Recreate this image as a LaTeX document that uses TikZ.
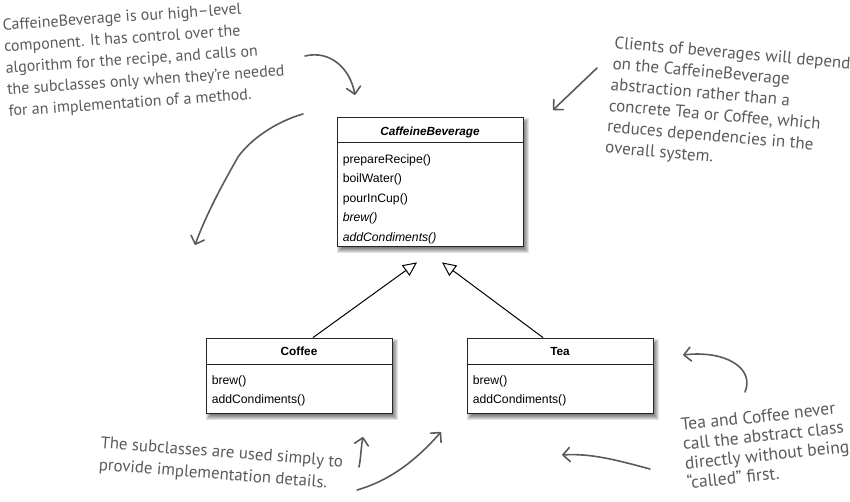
\documentclass[tikz,border=0pt]{standalone}
\usepackage{fontspec}
\setmainfont{Liberation Sans}
\newfontfamily\handfont{PT Sans}
\usetikzlibrary{arrows.meta,backgrounds}
\definecolor{ink}{HTML}{5A5A5A}
\begin{document}
\begin{tikzpicture}[x=1pt,y=-1pt,
  umlbox/.style={draw=black!85, line width=0.8pt, fill=white, inner sep=0pt, minimum width=186pt},
  umltitle/.style={font=\fontsize{11.8}{14}\selectfont\bfseries, inner sep=0pt},
  meth/.style={font=\fontsize{12.2}{19.6}\selectfont, align=left, anchor=north west, inner sep=0pt},
  note/.style={font=\handfont\fontsize{16}{21.5}\selectfont, text=ink, align=left, inner sep=0pt, anchor=north west},
  handarrow/.style={draw=ink, line width=1.6pt, line cap=round, line join=round,
    -{Straight Barb[length=7pt,width=14pt,line width=1.6pt,round]}},
  inh/.style={draw=black, line width=1pt, -{Triangle[open,length=14pt,width=13pt,fill=white,line width=1pt]}}
]
\useasboundingbox (0,0) rectangle (850,502);

% UML boxes
\node[umlbox, minimum height=129pt] (cb) at (430,181.5) {};
\node[umlbox, minimum height=75pt] (coffee) at (299,375.5) {};
\node[umlbox, minimum height=75pt] (tea) at (560,375.5) {};

\begin{pgfonlayer}{background}
\foreach \b in {cb,coffee,tea}{
  \foreach \s in {0,...,6}{
    \fill[black,opacity=0.11] ([shift={(6-\s,7-\s)}]\b.north west) rectangle ([shift={(\s,1+\s)}]\b.south east);
  }
}
\end{pgfonlayer}

\draw[black!85, line width=0.8pt] ([yshift=-26pt]cb.north west) -- ([yshift=-26pt]cb.north east);
\draw[black!85, line width=0.8pt] ([yshift=-27pt]coffee.north west) -- ([yshift=-27pt]coffee.north east);
\draw[black!85, line width=0.8pt] ([yshift=-27pt]tea.north west) -- ([yshift=-27pt]tea.north east);

\node[umltitle, font=\fontsize{11.8}{14}\selectfont\bfseries\itshape] (cbt) at ([yshift=-15.5pt]cb.north) {CaffeineBeverage};
\node[umltitle] (cft) at ([yshift=-14pt]coffee.north) {Coffee};
\node[umltitle] (tet) at ([yshift=-14pt]tea.north) {Tea};

\node[meth] (cbm) at ([xshift=6pt,yshift=-37.5pt]cb.north west)
  {prepareRecipe()\\boilWater()\\pourInCup()\\\textit{brew()}\\\textit{addCondiments()}};
\node[meth] (cfm) at ([xshift=6pt,yshift=-37.5pt]coffee.north west) {brew()\\addCondiments()};
\node[meth] (tem) at ([xshift=6pt,yshift=-37.5pt]tea.north west) {brew()\\addCondiments()};

% inheritance
\draw[inh] ([xshift=14pt]coffee.north) -- ([xshift=-13pt,yshift=-16pt]cb.south);
\draw[inh] ([xshift=-17pt]tea.north) -- ([xshift=12pt,yshift=-16pt]cb.south);

% notes
\node[note, rotate=4] (n1) at (2,19) {CaffeineBeverage is our high–level\\component. It has control over the\\algorithm for the recipe, and calls on\\the subclasses only when they’re needed\\for an implementation of a method.};
\node[note, rotate=-5, font=\handfont\fontsize{17}{21}\selectfont] (n2) at (615,36) {Clients of beverages will depend\\on the CaffeineBeverage\\abstraction rather than a\\concrete Tea or Coffee, which\\reduces dependencies in the\\overall system.};
\node[note, rotate=-4.5, font=\handfont\fontsize{16.8}{22}\selectfont] (n3) at (101,436) {The subclasses are used simply to\\provide implementation details.};
\node[note, rotate=6, font=\handfont\fontsize{17.5}{19.5}\selectfont] (n4) at (680,418) {Tea and Coffee never\\call the abstract class\\directly without being\\“called” first.};

% hand arrows
\coordinate (a1s) at (305,56);  \coordinate (a1e) at (355,95);
\coordinate (a2s) at (303,114); \coordinate (a2m) at (238,157); \coordinate (a2e) at (195,245);
\coordinate (a3s) at (597,68);  \coordinate (a3e) at (553,110);
\coordinate (a4s) at (745,392); \coordinate (a4e) at (683,355);
\coordinate (a5s) at (650,469); \coordinate (a5e) at (562,455);
\coordinate (a6s) at (359,467); \coordinate (a6e) at (363,437);
\coordinate (a7s) at (357,490); \coordinate (a7e) at (441,432);

\draw[handarrow] (a1s) .. controls (330,50) and (350,68) .. (a1e);
\draw[handarrow] (a2s) .. controls (275,122) and (250,140) .. (a2m) .. controls (222,185) and (206,215) .. (a2e);
\draw[handarrow] (a3s) -- (a3e);
\draw[handarrow] (a4s) .. controls (755,368) and (725,350) .. (a4e);
\draw[handarrow] (a5s) .. controls (620,461) and (592,453) .. (a5e);
\draw[handarrow] (a6s) .. controls (361,457) and (361,447) .. (a6e);
\draw[handarrow] (a7s) .. controls (392,480) and (418,458) .. (a7e);
\end{tikzpicture}
\end{document}
